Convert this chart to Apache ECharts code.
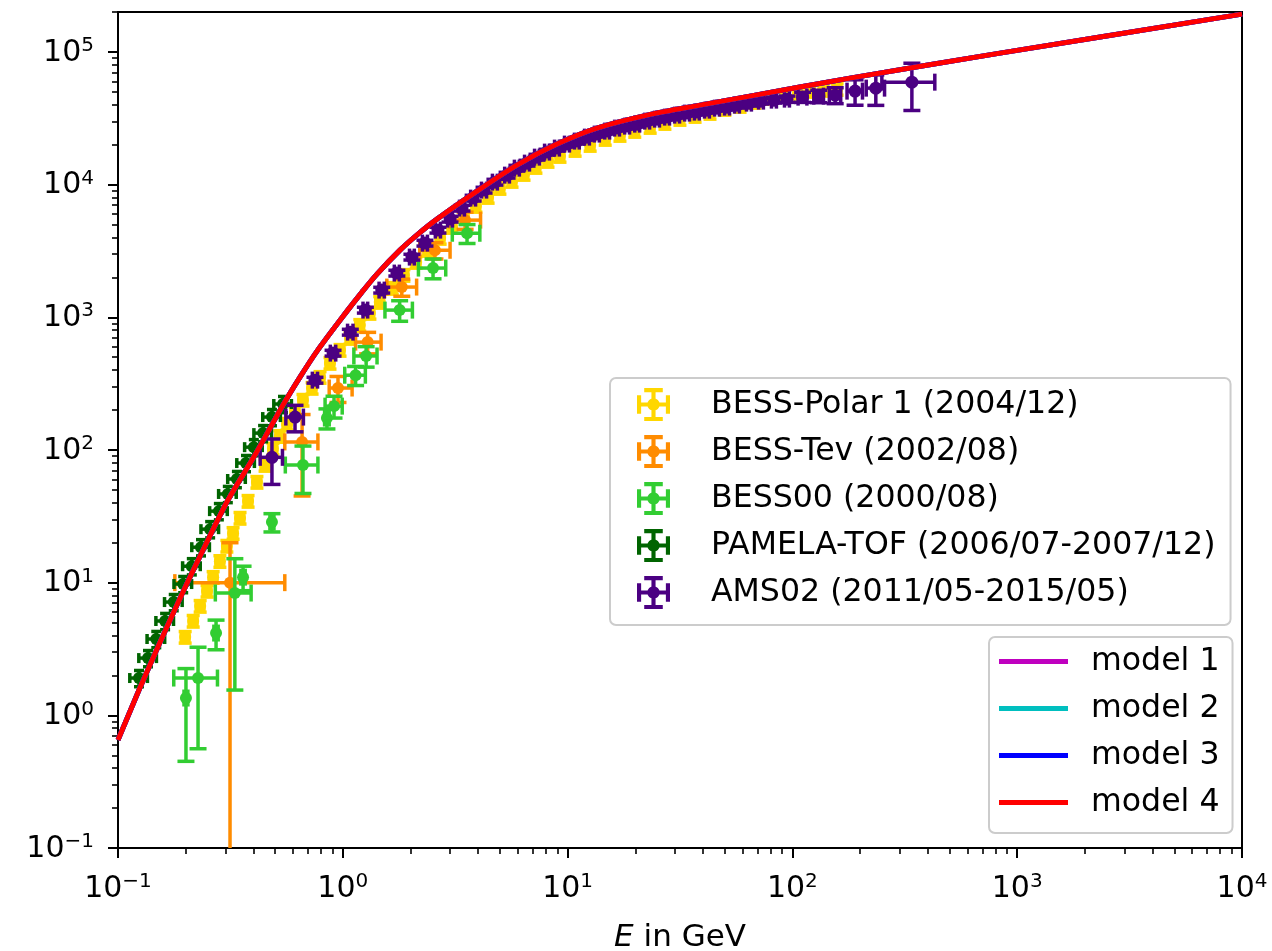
<!DOCTYPE html>
<html>
<head>
<meta charset="utf-8">
<script src="https://cdn.jsdelivr.net/npm/echarts@6.0.0/dist/echarts.min.js"></script>
<style>
html, body { margin: 0; padding: 0; background: #fff; }
#chart { width: 1272px; height: 951px; }
</style>
</head>
<body>
<div id="chart"></div>
<script>
// axis ticks
var xTicks = [0.1, 1, 10, 100, 1000, 10000];
var yTicks = [0.1, 1, 10, 100, 1000, 10000, 100000];
var minorMult = [2, 3, 4, 5, 6, 7, 8, 9];

// BESS-Polar 1 (2004/12)
var polarE = [0.199, 0.216, 0.232, 0.249, 0.265, 0.284, 0.305, 0.325, 0.349, 0.379, 0.415, 0.451, 0.489, 0.525, 0.565,
    0.613, 0.665, 0.730, 0.792, 0.877, 0.972, 1.077, 1.19, 1.32, 1.46, 1.66, 1.87, 2.12, 2.39, 2.71, 3.06, 3.46, 3.91,
    4.43, 5.00, 5.66, 6.40, 7.23, 8.18, 9.25, 10.8, 12.6, 14.7, 17.1, 19.9, 23.3, 27.1, 31.6, 36.9, 43.0, 50.1, 58.5,
    68.2, 79.5, 92.7, 106, 120, 137, 158];
var polarF = [3.89, 5.14, 6.66, 8.65, 11.0, 14.5, 18.9, 23.6, 30.7, 41.2, 57.3, 76.9, 102, 127, 157,
    193, 238, 293, 354, 452, 566, 697, 873, 1076, 1302, 1660, 2080, 2606, 3209, 3953, 4782, 5788, 6887,
    8052, 9410, 10630, 12000, 13550, 15040, 16400, 18200, 19850, 22030, 23610, 25310, 27130, 29070, 31160, 32830, 34590, 37070, 39050,
    41850, 44850, 47260, 48930, 50660, 51540, 52450];
var polarErrRel = [0.04, 0.1]; // typical x / y bar half-size

// BESS-Tev (2002/08)
var tevE = [0.315, 0.659, 0.952, 1.29, 1.83, 2.57, 3.50];
var tevF = [10, 115, 293, 650, 1690, 3200, 5400];
var tevElo = [0.179, 0.552, 0.87, 1.14, 1.57, 2.2, 3.0];
var tevEhi = [0.552, 0.775, 1.10, 1.48, 2.13, 3.0, 4.1];
var tevFErr = [10, 70, 65, 120, 250, 450, 800];

// BESS00 (2000/08)
var b00E = [0.2006, 0.227, 0.273, 0.331, 0.360, 0.484, 0.665, 0.85, 0.914, 1.14, 1.27, 1.79, 2.52, 3.57];
var b00F = [1.35, 1.91, 4.17, 8.35, 11.0, 28.6, 77, 174, 214, 366, 511, 1133, 2350, 4300];
var b00EErr = [0.004, 0.05, 0.006, 0.06, 0.008, 0.01, 0.11, 0.02, 0.08, 0.12, 0.15, 0.25, 0.35, 0.5];
var b00FErr = [0.9, 1.35, 1.05, 6.8, 2.3, 4.5, 30, 30, 40, 60, 90, 200, 400, 700];

// PAMELA-TOF (2006/07-2007/12)
var pamE = [0.124, 0.136, 0.148, 0.162, 0.177, 0.195, 0.213, 0.234, 0.257, 0.281, 0.308, 0.338, 0.371, 0.402, 0.442, 0.484, 0.542];
var pamF = [1.91, 2.70, 3.76, 5.14, 7.14, 9.76, 13.3, 18.5, 25.3, 34.6, 46.6, 60.4, 79.7, 105, 134, 177, 222];
var pamErrRel = [0.09, 0.14];

// AMS02 (2011/05-2015/05)
var amsE = [0.484, 0.613, 0.752, 0.905, 1.08, 1.26, 1.49, 1.74, 2.03, 2.32,
    2.65, 3.00, 3.39, 3.80, 4.25, 4.75, 5.38, 5.95, 6.60, 7.31,
    8.10, 8.97, 9.94, 11.0, 12.2, 13.5, 15.0, 16.6, 18.4, 20.4,
    22.6, 25.0, 27.7, 30.7, 34.0, 37.6, 41.7, 46.2, 51.2, 56.7,
    64.1, 72.5, 82.8, 94.6, 111, 131, 155, 190, 235, 340];
var amsF = [88, 177, 336, 537, 773, 1133, 1603, 2154, 2843, 3624,
    4540, 5495, 6653, 7912, 9093, 10440, 11790, 13310, 14520, 16110,
    17580, 18840, 20200, 21280, 22800, 24030, 25310, 26660, 27600, 28570,
    30100, 31160, 32270, 33400, 34590, 35190, 36420, 37710, 38370, 39730,
    41130, 42580, 43330, 44090, 45640, 46440, 47260, 50660, 53360, 59200];
var amsEErr = [0.055, 0.055, 0.02, 0.025, 0.03, 0.03, 0.04, 0.045, 0.05, 0.06,
    0.07, 0.075, 0.085, 0.095, 0.11, 0.12, 0.13, 0.15, 0.165, 0.18,
    0.2, 0.22, 0.25, 0.27, 0.3, 0.34, 0.37, 0.41, 0.46, 0.51,
    0.56, 0.62, 0.69, 0.77, 0.85, 0.94, 1.04, 1.15, 1.28, 1.4,
    1.6, 1.8, 2.1, 2.4, 5, 6.5, 9, 15, 22, 90];
var amsFErr = [33, 40, 17, 27, 39, 57, 80, 108, 142, 181,
    227, 275, 333, 396, 455, 522, 590, 666, 726, 805,
    879, 942, 1010, 1064, 1140, 1200, 1265, 1333, 1380, 1430,
    1505, 1560, 1615, 1670, 1730, 1760, 1820, 1885, 1920, 1990,
    2060, 2130, 2170, 2400, 4000, 5000, 6500, 11000, 13800, 23000];

// models (all four lie on top of each other)
var modelE = [0.1, 0.124, 0.154, 0.1945, 0.2437, 0.3085, 0.4068, 0.542, 0.645, 0.768, 1.044, 1.217, 1.419, 1.796, 2.16,
    2.624, 3.954, 5.95, 8.97, 13.5, 22.6, 38.82, 64.7, 180.4, 838.6, 10000];
var modelF = [0.651, 1.551, 3.567, 8.50, 18.87, 41.93, 91.5, 218, 354, 556, 1113, 1549, 2116, 3209, 4236,
    5495, 8933, 14030, 20200, 26660, 33400, 39730, 46440, 63450, 97940, 192800];

var dataNames = ['BESS-Polar 1 (2004/12)', 'BESS-Tev (2002/08)', 'BESS00 (2000/08)',
    'PAMELA-TOF (2006/07-2007/12)', 'AMS02 (2011/05-2015/05)'];
var modelNames = ['model 1', 'model 2', 'model 3', 'model 4'];

var chartDom = document.getElementById('chart');
var myChart = echarts.init(chartDom);
var option;

var FONT = 'DejaVu Sans';
var LW = 3.5;

function minorTicks(decades, max) {
    var out = [];
    decades.forEach(function (d) {
        minorMult.forEach(function (m) {
            if (m * d <= max) out.push(m * d);
        });
    });
    return out;
}

function powLabel(v) {
    var p = Math.round(Math.log(v) / Math.LN10);
    var s = p < 0 ? '\u2212' + (-p) : String(p);
    return '{b|10}{s|' + s + '}';
}

var tickRich = {
    b: { fontFamily: FONT, fontSize: 30, color: '#000', lineHeight: 32, verticalAlign: 'bottom' },
    s: { fontFamily: FONT, fontSize: 20, color: '#000', lineHeight: 20, verticalAlign: 'top' }
};

function symRows(E, F, eErr, fErr) {
    return E.map(function (e, i) {
        return [e, F[i], e - eErr[i], e + eErr[i], F[i] - fErr[i], F[i] + fErr[i]];
    });
}
function relRows(E, F, rel) {
    return E.map(function (e, i) {
        return [e, F[i], e * (1 - rel[0]), e * (1 + rel[0]), F[i] * (1 - rel[1]), F[i] * (1 + rel[1])];
    });
}

function errorBars(radius, cap) {
    return function (params, api) {
        var cs = params.coordSys;
        var bottom = cs.y + cs.height;
        var x = api.value(0), y = api.value(1);
        var c = api.coord([x, y]);
        var xl = api.coord([api.value(2), y])[0];
        var xh = api.coord([api.value(3), y])[0];
        var flo = api.value(4);
        var yh = api.coord([x, api.value(5)])[1];
        var yl = flo > 0 ? api.coord([x, flo])[1] : Infinity;
        var lowCap = true;
        if (!(yl <= bottom)) { yl = bottom; lowCap = false; }
        var color = api.visual('color');
        var h = cap / 2;
        function seg(x1, y1, x2, y2) {
            return { type: 'line', shape: { x1: x1, y1: y1, x2: x2, y2: y2 }, style: { stroke: color, lineWidth: LW } };
        }
        var kids = [
            seg(xl, c[1], xh, c[1]),
            seg(c[0], yl, c[0], yh),
            seg(xl, c[1] - h, xl, c[1] + h),
            seg(xh, c[1] - h, xh, c[1] + h),
            seg(c[0] - h, yh, c[0] + h, yh)
        ];
        if (lowCap) kids.push(seg(c[0] - h, yl, c[0] + h, yl));
        kids.push({ type: 'circle', shape: { cx: c[0], cy: c[1], r: radius }, style: { fill: color } });
        return { type: 'group', children: kids };
    };
}

function errSeries(name, color, rows, radius, cap) {
    return {
        name: name,
        type: 'custom',
        clip: true,
        itemStyle: { color: color },
        encode: { x: 0, y: 1 },
        renderItem: errorBars(radius, cap),
        data: rows
    };
}

function modelSeries(name, color) {
    return {
        name: name,
        type: 'line',
        symbol: 'none',
        showSymbol: false,
        smooth: 0.3,
        itemStyle: { color: color },
        lineStyle: { color: color, width: 5, join: 'round' },
        data: modelE.map(function (e, i) { return [e, modelF[i]]; })
    };
}

var errorIcon = 'path://M0,14h32v4h-32z M14,0h4v32h-4z M0,7h4v18h-4z M28,7h4v18h-4z M7,0h18v4h-18z M7,28h18v4h-18z M10,16a6,6 0 1,1 12,0a6,6 0 1,1 -12,0z';
var lineIcon = 'path://M0,0H69V5H0Z';

var tevRows = tevE.map(function (e, i) {
    return [e, tevF[i], tevElo[i], tevEhi[i], tevF[i] - tevFErr[i], tevF[i] + tevFErr[i]];
});

function majorAxis(ticks, extra) {
    var ax = {
        type: 'log',
        logBase: 10,
        axisLine: { show: true, onZero: false, lineStyle: { color: '#000', width: 2 } },
        axisTick: { show: true, customValues: ticks, length: 10, lineStyle: { color: '#000', width: 2 } },
        axisLabel: { customValues: ticks, formatter: powLabel, margin: 24, rich: tickRich, showMinLabel: true, showMaxLabel: true },
        splitLine: { show: false },
        minorTick: { show: false }
    };
    for (var k in extra) ax[k] = extra[k];
    return ax;
}
function minorAxis(ticks, extra) {
    var ax = {
        type: 'log',
        logBase: 10,
        axisLine: { show: false },
        axisTick: { show: true, customValues: ticks, length: 6, lineStyle: { color: '#000', width: 1.6 } },
        axisLabel: { show: false },
        splitLine: { show: false },
        minorTick: { show: false }
    };
    for (var k in extra) ax[k] = extra[k];
    return ax;
}

option = {
    animation: false,
    backgroundColor: '#fff',
    textStyle: { fontFamily: FONT },
    grid: {
        left: 118, right: 30, top: 12, bottom: 103,
        outerBoundsMode: 'none',
        show: true, borderColor: '#000', borderWidth: 2, backgroundColor: 'transparent'
    },
    xAxis: [
        majorAxis(xTicks, {
            min: 0.1, max: 10000, position: 'bottom',
            name: '{i|E} in GeV', nameLocation: 'middle', nameGap: 74,
            nameTextStyle: {
                fontFamily: FONT, fontSize: 31, color: '#000',
                rich: { i: { fontFamily: FONT, fontSize: 31, color: '#000', fontStyle: 'italic' } }
            }
        }),
        minorAxis(minorTicks([0.1, 1, 10, 100, 1000], 10000), { min: 0.1, max: 10000, position: 'bottom' })
    ],
    yAxis: [
        majorAxis(yTicks, { min: 0.1, max: 200000, position: 'left' }),
        minorAxis(minorTicks([0.1, 1, 10, 100, 1000, 10000, 100000], 200000), { min: 0.1, max: 200000, position: 'left' })
    ],
    legend: [
        {
            orient: 'vertical', left: 610, top: 378,
            padding: [10, 15, 16, 27],
            itemWidth: 33, itemHeight: 33, itemGap: 14,
            backgroundColor: 'rgba(255,255,255,0.8)', borderColor: '#cccccc', borderWidth: 2, borderRadius: 6,
            selectedMode: false,
            textStyle: { fontFamily: FONT, fontSize: 31.6, color: '#000', lineHeight: 33, padding: [0, 0, 0, 36] },
            data: dataNames.map(function (n) { return { name: n, icon: errorIcon }; })
        },
        {
            orient: 'vertical', left: 989, top: 637,
            padding: [8, 13, 14, 10],
            itemWidth: 69, itemHeight: 5, itemGap: 14,
            backgroundColor: 'rgba(255,255,255,0.8)', borderColor: '#cccccc', borderWidth: 2, borderRadius: 6,
            selectedMode: false,
            textStyle: { fontFamily: FONT, fontSize: 31.6, color: '#000', lineHeight: 33, padding: [0, 0, 0, 18] },
            data: modelNames.map(function (n) { return { name: n, icon: lineIcon }; })
        }
    ],
    series: [
        errSeries(dataNames[0], '#FFD700', relRows(polarE, polarF, polarErrRel), 6, 13),
        errSeries(dataNames[1], '#FF8C00', tevRows, 6, 17),
        errSeries(dataNames[2], '#32CD32', symRows(b00E, b00F, b00EErr, b00FErr), 6, 17),
        errSeries(dataNames[3], '#006400', relRows(pamE, pamF, pamErrRel), 6, 10),
        errSeries(dataNames[4], '#4B0082', symRows(amsE, amsF, amsEErr, amsFErr), 6.5, 17),
        modelSeries(modelNames[0], '#BF00BF'),
        modelSeries(modelNames[1], '#00BFBF'),
        modelSeries(modelNames[2], '#0000FF'),
        modelSeries(modelNames[3], '#FF0000')
    ]
};

option && myChart.setOption(option);
</script>
</body>
</html>
